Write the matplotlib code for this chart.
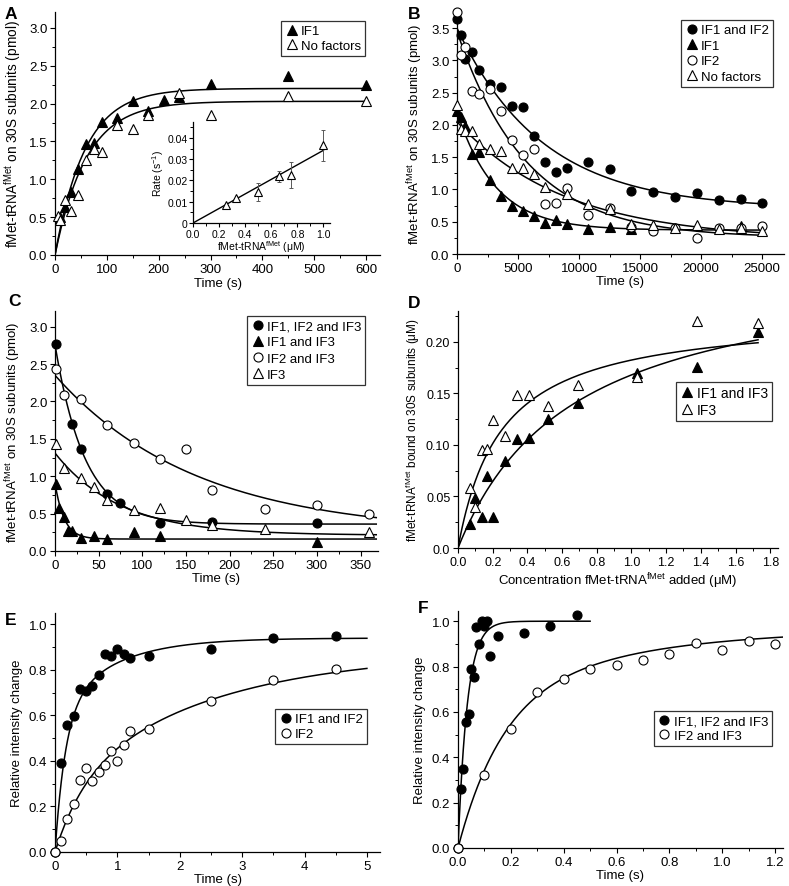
import numpy as np
import matplotlib
matplotlib.use("Agg")
import matplotlib.pyplot as plt
from matplotlib.ticker import MultipleLocator, FuncFormatter

plt.rcParams['font.family'] = ['Liberation Sans', 'DejaVu Sans']
plt.rcParams['mathtext.fontset'] = 'custom'
plt.rcParams['mathtext.rm'] = 'Liberation Sans'
plt.rcParams['mathtext.it'] = 'Liberation Sans:italic'
plt.rcParams['font.size'] = 9.5
plt.rcParams['axes.linewidth'] = 0.9

TRNA = r'fMet-tRNA$^{\mathrm{fMet}}$'

# ---- panel A: binding with IF1 / no factors
a_t_if1 = [10, 20, 30, 45, 60, 75, 90, 120, 150, 180, 210, 240, 300, 450, 600]
a_v_if1 = [0.50, 0.63, 0.83, 1.14, 1.46, 1.48, 1.76, 1.81, 2.04, 1.90, 2.05, 2.09, 2.26, 2.36, 2.24]
a_t_nf = [5, 10, 20, 30, 45, 60, 75, 90, 120, 150, 180, 240, 300, 450, 600]
a_v_nf = [0.52, 0.46, 0.72, 0.58, 0.79, 1.25, 1.40, 1.36, 1.72, 1.66, 1.85, 2.14, 1.85, 2.10, 2.04]
a_fit_if1 = [2.20, 0.0173]   # amplitude, rate
a_fit_nf = [2.03, 0.0165]

# inset of A: rate vs concentration
ins_c = [0.25, 0.33, 0.50, 0.66, 0.75, 1.00]
ins_rate = [0.0087, 0.0118, 0.0145, 0.0220, 0.0227, 0.0365]
ins_err = [0, 0, 0.0043, 0.0026, 0.0062, 0.0072]
ins_slope = 0.0342

# ---- panel B: dissociation
b_t = [0, 300, 630, 1230, 1800, 2700, 3600, 4500, 5400, 6300, 7200, 8100, 9000,
       10750, 12550, 14300, 16100, 17900, 19650, 21450, 23250, 25000]
b_if12 = [3.64, 3.40, 3.02, 3.13, 2.85, 2.64, 2.59, 2.30, 2.28, 1.83, 1.43, 1.27, 1.34,
          1.43, 1.32, 0.97, 0.96, 0.88, 0.94, 0.84, 0.86, 0.79]
b_if2 = [3.75, 3.09, 3.20, 2.52, 2.48, 2.56, 2.21, 1.76, 1.54, 1.63, 0.78, 0.79, 1.03,
         0.60, 0.72, 0.42, 0.36, 0.41, 0.25, 0.40, 0.41, 0.44]
b_t_if1 = [0, 300, 630, 1230, 1800, 2700, 3600, 4500, 5400, 6300, 7200, 8100, 9000,
           10750, 12550, 14300, 23250]
b_if1 = [2.22, 2.12, 1.98, 1.55, 1.58, 1.14, 0.90, 0.75, 0.66, 0.59, 0.48, 0.52, 0.465,
         0.39, 0.42, 0.39, 0.43]
b_t_nf = [0, 300, 630, 1230, 1800, 2700, 3600, 4500, 5400, 6300, 7200, 9000,
          10750, 12550, 14300, 16100, 17900, 19650, 21450, 23250, 25000]
b_nf = [2.31, 1.94, 1.90, 1.90, 1.70, 1.62, 1.60, 1.34, 1.34, 1.24, 1.04, 0.93,
        0.775, 0.70, 0.465, 0.45, 0.41, 0.45, 0.39, 0.40, 0.36]
b_fit_if12 = [2.80, 1.43e-4, 0.70]   # amplitude, rate, offset
b_fit_if1 = [1.83, 3.16e-4, 0.37]
b_fit_if2 = [3.20, 1.75e-4, 0.25]
b_fit_nf = [1.83, 1.13e-4, 0.22]

# ---- panel C: dissociation with IF3
c_t_123 = [1, 20, 30, 60, 75, 120, 180, 300]
c_v_123 = [2.77, 1.70, 1.36, 0.76, 0.64, 0.38, 0.39, 0.38]
c_t_13 = [1, 5, 10, 15, 20, 30, 45, 60, 90, 120, 300]
c_v_13 = [0.90, 0.58, 0.46, 0.27, 0.27, 0.17, 0.20, 0.16, 0.25, 0.20, 0.12]
c_t_23 = [1, 10, 30, 60, 90, 120, 150, 180, 240, 300, 360]
c_v_23 = [2.43, 2.09, 2.03, 1.68, 1.44, 1.23, 1.36, 0.81, 0.56, 0.61, 0.49]
c_t_3 = [1, 10, 30, 45, 60, 90, 120, 150, 180, 240, 360]
c_v_3 = [1.43, 1.11, 0.97, 0.85, 0.68, 0.55, 0.57, 0.42, 0.35, 0.29, 0.25]
c_fit_123 = [2.40, 0.0292, 0.36]
c_fit_13 = [0.75, 0.095, 0.16]
c_fit_23 = [2.12, 0.0062, 0.23]
c_fit_3 = [1.10, 0.0135, 0.21]

# ---- panel D: titration
d_c_13 = [0.07, 0.10, 0.14, 0.20, 0.17, 0.27, 0.34, 0.41, 0.52, 0.69, 1.03, 1.38, 1.73]
d_v_13 = [0.023, 0.049, 0.030, 0.030, 0.070, 0.084, 0.106, 0.107, 0.125, 0.141, 0.170, 0.176, 0.210]
d_c_3 = [0.07, 0.10, 0.14, 0.17, 0.20, 0.27, 0.34, 0.41, 0.52, 0.69, 1.03, 1.38, 1.73]
d_v_3 = [0.058, 0.040, 0.095, 0.096, 0.124, 0.109, 0.148, 0.148, 0.138, 0.158, 0.166, 0.220, 0.218]
d_fit_13 = [0.28, 0.667]   # Bmax, Kd
d_fit_3 = [0.228, 0.25]

# ---- panel E: stopped flow, IF1/IF2
e_t = [0, 0.1, 0.2, 0.3, 0.4, 0.5, 0.6, 0.7, 0.8, 0.9, 1.0, 1.1, 1.2, 1.5, 2.5, 3.5, 4.5]
e_if12 = [0, 0.39, 0.56, 0.596, 0.714, 0.709, 0.728, 0.778, 0.871, 0.861, 0.89, 0.871, 0.853,
          0.861, 0.89, 0.94, 0.949]
e_if2 = [0, 0.048, 0.144, 0.21, 0.317, 0.371, 0.31, 0.35, 0.383, 0.445, 0.40, 0.471, 0.533,
         0.54, 0.662, 0.756, 0.805]
e_fit_if12 = [0.60, 6.0, 0.34, 1.15]   # A1, k1, A2, k2
e_fit_if2 = [0.28, 2.2, 0.60, 0.42]

# ---- panel F: stopped flow with IF3
f_t_123 = [0, 0.01, 0.02, 0.03, 0.04, 0.05, 0.06, 0.07, 0.08, 0.09, 0.10, 0.11, 0.12, 0.15,
           0.25, 0.35, 0.45]
f_v_123 = [0, 0.26, 0.35, 0.555, 0.59, 0.79, 0.756, 0.973, 0.90, 1.0, 0.98, 1.0, 0.845, 0.934,
           0.947, 0.98, 1.028]
f_t_23 = [0, 0.1, 0.2, 0.3, 0.4, 0.5, 0.6, 0.7, 0.8, 0.9, 1.0, 1.1, 1.2]
f_v_23 = [0, 0.32, 0.526, 0.687, 0.743, 0.79, 0.808, 0.827, 0.856, 0.905, 0.874, 0.912, 0.90]
f_fit_123 = [1.0, 28.5]
f_fit_23 = [0.65, 6.0, 0.32, 1.7]


def style(ax, xmaj, ymaj, xlim, ylim):
    for s in ['top', 'right']:
        ax.spines[s].set_visible(False)
    ax.xaxis.set_major_locator(MultipleLocator(xmaj))
    ax.xaxis.set_minor_locator(MultipleLocator(xmaj / 2))
    ax.yaxis.set_major_locator(MultipleLocator(ymaj))
    ax.yaxis.set_minor_locator(MultipleLocator(ymaj / 2))
    ax.tick_params(which='major', direction='out', length=3.5, width=0.8, pad=2)
    ax.tick_params(which='minor', direction='out', length=2, width=0.7)
    ax.set_xlim(*xlim)
    ax.set_ylim(*ylim)


def pts(ax, x, y, kind, label=None, ms=None):
    mk = '^' if 'tri' in kind else 'o'
    fc = 'black' if 'fill' in kind else 'white'
    if ms is None:
        ms = 7.5 if mk == '^' else 6.5
    ax.plot(x, y, linestyle='none', marker=mk, ms=ms, mfc=fc, mec='black', mew=0.8,
            label=label, clip_on=False, zorder=3)


def leg(ax, anchor, fs=9.5, sp=0.2):
    l = ax.legend(loc='upper right', bbox_to_anchor=anchor, frameon=True, fancybox=False,
                  edgecolor='black', fontsize=fs, handletextpad=0.2, borderpad=0.3,
                  labelspacing=sp, handlelength=1.0, borderaxespad=0)
    l.get_frame().set_linewidth(0.9)


fig = plt.figure(figsize=(7.89, 8.87), dpi=100)
W, H = 789.0, 887.0


def add_axes(l, r, t, b):
    return fig.add_axes([l / W, 1 - b / H, (r - l) / W, (b - t) / H])


lw = 1.1

# A
ax = add_axes(55, 380, 13, 256)
tt = np.linspace(0, 600, 300)
ax.plot(tt, a_fit_if1[0] * (1 - np.exp(-a_fit_if1[1] * tt)), color='black', lw=lw)
ax.plot(tt, a_fit_nf[0] * (1 - np.exp(-a_fit_nf[1] * tt)), color='black', lw=lw)
pts(ax, a_t_if1, a_v_if1, 'tri fill', 'IF1')
pts(ax, a_t_nf, a_v_nf, 'tri open', 'No factors')
style(ax, 100, 0.5, (0, 627), (0, 3.21))
ax.set_xlabel('Time (s)', labelpad=2)
ax.set_ylabel(TRNA + ' on 30S subunits (pmol)', fontsize=9.8)
leg(ax, (0.954, 0.963))

ins = fig.add_axes([193 / W, 1 - 224 / H, 137 / W, 101 / H])
cc = np.linspace(0, 1.0, 50)
ins.plot(cc, ins_slope * cc, color='black', lw=1.0)
ins.errorbar(ins_c, ins_rate, yerr=ins_err, fmt='none', ecolor='0.35', elinewidth=0.7,
             capsize=1.5, capthick=0.7)
pts(ins, ins_c, ins_rate, 'tri open', ms=6)
style(ins, 0.2, 0.01, (0, 1.05), (0, 0.0475))
ins.tick_params(which='both', labelsize=7.5)
ins.tick_params(which='major', length=3, pad=1)
ins.yaxis.set_major_formatter(FuncFormatter(lambda v, p: '0' if v == 0 else f'{v:.2f}'))
ins.set_xlabel(TRNA + ' (μM)', fontsize=7.5, labelpad=0)
ins.set_ylabel(r'Rate (s$^{-1}$)', fontsize=7.5, labelpad=1)

# B
ax = add_axes(457, 784, 13, 255)
tt = np.linspace(0, 25000, 400)
for f in [b_fit_if12, b_fit_if1, b_fit_if2, b_fit_nf]:
    ax.plot(tt, f[0] * np.exp(-f[1] * tt) + f[2], color='black', lw=lw)
pts(ax, b_t, b_if12, 'circ fill', 'IF1 and IF2')
pts(ax, b_t_if1, b_if1, 'tri fill', 'IF1')
pts(ax, b_t, b_if2, 'circ open', 'IF2')
pts(ax, b_t_nf, b_nf, 'tri open', 'No factors')
style(ax, 5000, 0.5, (0, 26800), (0, 3.75))
ax.set_xlabel('Time (s)', labelpad=1)
ax.set_ylabel(TRNA + ' on 30S subunits (pmol)')
leg(ax, (0.966, 0.967), sp=0.25)

# C
ax = add_axes(55, 378, 312, 552)
tt = np.linspace(0, 368, 400)
for f in [c_fit_123, c_fit_13, c_fit_23, c_fit_3]:
    ax.plot(tt, f[0] * np.exp(-f[1] * tt) + f[2], color='black', lw=lw)
pts(ax, c_t_123, c_v_123, 'circ fill', 'IF1, IF2 and IF3')
pts(ax, c_t_13, c_v_13, 'tri fill', 'IF1 and IF3')
pts(ax, c_t_23, c_v_23, 'circ open', 'IF2 and IF3')
pts(ax, c_t_3, c_v_3, 'tri open', 'IF3')
style(ax, 50, 0.5, (0, 370), (0, 3.21))
ax.set_xlabel('Time (s)', labelpad=1)
ax.set_ylabel(TRNA + ' on 30S subunits (pmol)')
leg(ax, (0.96, 0.979), sp=0.3)

# D
ax = add_axes(458, 778, 312, 549)
cc = np.linspace(0, 1.73, 300)
for f in [d_fit_13, d_fit_3]:
    ax.plot(cc, f[0] * cc / (f[1] + cc), color='black', lw=lw)
pts(ax, d_c_13, d_v_13, 'tri fill', 'IF1 and IF3')
pts(ax, d_c_3, d_v_3, 'tri open', 'IF3')
style(ax, 0.2, 0.05, (0, 1.845), (0, 0.23))
ax.tick_params(which='both', labelsize=9)
ax.yaxis.set_major_formatter(FuncFormatter(lambda v, p: '0.0' if v == 0 else f'{v:.2f}'))
ax.set_xlabel('Concentration ' + TRNA + ' added (μM)', labelpad=2)
ax.set_ylabel(TRNA + ' bound on 30S subunits (μM)', fontsize=8.5, labelpad=3)
leg(ax, (0.981, 0.70), fs=10)

# E
ax = add_axes(55, 380, 614, 853)
tt = np.linspace(0, 5, 400)
for f in [e_fit_if12, e_fit_if2]:
    ax.plot(tt, f[0] * (1 - np.exp(-f[1] * tt)) + f[2] * (1 - np.exp(-f[3] * tt)),
            color='black', lw=lw)
pts(ax, e_t, e_if12, 'circ fill', 'IF1 and IF2')
pts(ax, e_t, e_if2, 'circ open', 'IF2')
style(ax, 1, 0.2, (0, 5.21), (0, 1.05))
ax.xaxis.set_minor_locator(MultipleLocator(0.5))
ax.yaxis.set_minor_locator(MultipleLocator(0.1))
ax.set_xlabel('Time (s)', labelpad=1)
ax.set_ylabel('Relative intensity change')
leg(ax, (0.96, 0.598))

# F
ax = add_axes(458, 783, 612, 849)
tt = np.linspace(0, 0.5, 300)
ax.plot(tt, f_fit_123[0] * (1 - np.exp(-f_fit_123[1] * tt)), color='black', lw=lw)
tt = np.linspace(0, 1.23, 400)
ax.plot(tt, f_fit_23[0] * (1 - np.exp(-f_fit_23[1] * tt)) + f_fit_23[2] * (1 - np.exp(-f_fit_23[3] * tt)),
        color='black', lw=lw)
pts(ax, f_t_123, f_v_123, 'circ fill', 'IF1, IF2 and IF3')
pts(ax, f_t_23, f_v_23, 'circ open', 'IF2 and IF3')
style(ax, 0.2, 0.2, (0, 1.23), (0, 1.045))
ax.set_xlabel('Time (s)', labelpad=1)
ax.set_ylabel('Relative intensity change')
leg(ax, (0.966, 0.578))

# panel letters
for s, x, y in [('A', 5, 7), ('B', 408, 7), ('C', 8, 294), ('D', 408, 296),
                ('E', 5, 613), ('F', 418, 601)]:
    fig.text(x / W, 1 - y / H, s, fontsize=12.5, fontweight='bold', ha='left', va='top')

fig.savefig('out.png', dpi=100)
